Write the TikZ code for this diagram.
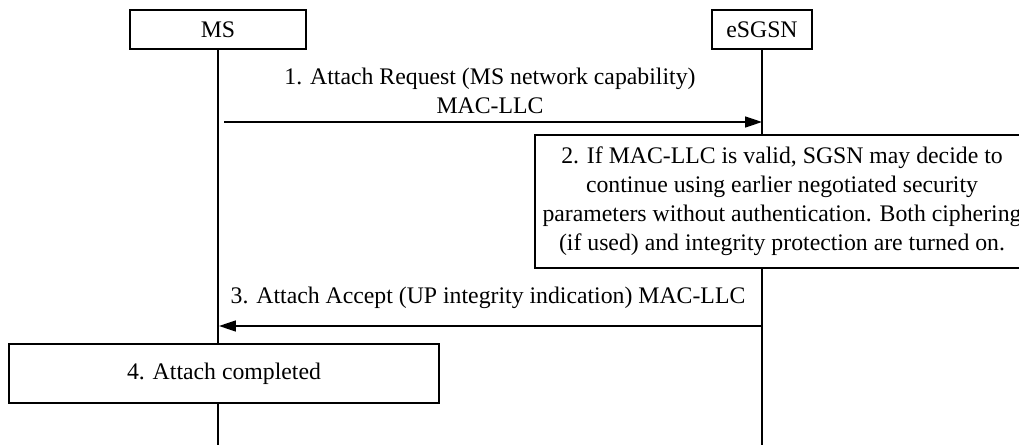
\documentclass[tikz,border=0pt]{standalone}
\usepackage{fontspec}
\setmainfont{Liberation Serif}
\usepackage{tikz}
\usetikzlibrary{arrows.meta,positioning}
\newcommand{\msgfont}{\fontsize{16.9}{20.6}\selectfont}

\begin{document}
\begin{tikzpicture}[
    entity/.style={rectangle,draw=black,fill=white,line width=1.05pt,
      minimum height=0.975cm,align=center,font=\msgfont,inner sep=0pt},
    actionbox/.style={rectangle,draw=black,fill=white,line width=1.05pt,
      align=center,font=\msgfont,inner sep=0pt},
    lifeline/.style={line width=1.05pt,draw=black},
    msgarrow/.style={-{Triangle[length=12pt,width=7.8pt]},line width=1.05pt,draw=black},
    msglabel/.style={font=\msgfont,align=center,inner sep=0pt}
  ]
    \useasboundingbox (0,0) rectangle (25.475,-11.125);

    \node[entity,minimum width=4.4cm] (ms) at (5.45,-0.7375) {MS};
    \node[entity,minimum width=2.5cm] (esgsn) at (19.05,-0.7375) {eSGSN};

    \coordinate (msend) at (5.45,-11.2);
    \coordinate (esgsnend) at (19.05,-11.2);
    \draw[lifeline] (ms) -- (msend);
    \draw[lifeline] (esgsn) -- (esgsnend);

    \coordinate (req1) at (5.6,-3.05);
    \coordinate (req2) at (19.05,-3.05);
    \coordinate (acc1) at (19.05,-8.15);
    \coordinate (acc2) at (5.475,-8.15);

    \node[msglabel] (reqlabel) at (12.25,-2.27) {1. Attach Request (MS network capability)\\MAC-LLC};
    \draw[msgarrow] (req1) -- (req2);

    \node[actionbox,minimum width=12.35cm,minimum height=3.325cm] (check) at (19.55,-5.04)
      {2. If MAC-LLC is valid, SGSN may decide to\\continue using earlier negotiated security\\parameters without authentication. Both ciphering\\(if used) and integrity protection are turned on.};

    \node[msglabel] (acclabel) at (12.2,-7.45) {3. Attach Accept (UP integrity indication) MAC-LLC};
    \draw[msgarrow] (acc1) -- (acc2);

    \node[actionbox,minimum width=10.75cm,minimum height=1.475cm] (done) at (5.6,-9.3375) {4. Attach completed};
  \end{tikzpicture}
\end{document}
